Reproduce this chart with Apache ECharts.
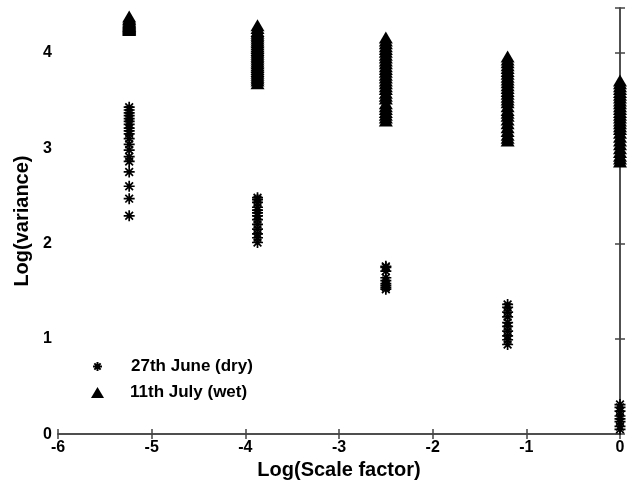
<!DOCTYPE html>
<html>
<head>
<meta charset="utf-8">
<script src="https://cdn.jsdelivr.net/npm/echarts@6/dist/echarts.min.js"></script>
<style>
  html, body { margin: 0; padding: 0; background: #fff; }
  #chart { width: 630px; height: 485px; }
</style>
</head>
<body>
<div id="chart"></div>
<script>
// log(scale factor) positions of the five columns
var scales = [-5.24, -3.87, -2.5, -1.2, 0];

// 27th June (dry) - log(variance) per column
var dry0 = [3.43, 3.40, 3.37, 3.34, 3.31, 3.28, 3.25, 3.21, 3.18, 3.15, 3.10, 3.04, 2.98, 2.91, 2.86, 2.75, 2.60, 2.47, 2.29];
var dry1 = [2.48, 2.46, 2.43, 2.38, 2.35, 2.32, 2.29, 2.25, 2.20, 2.15, 2.10, 2.06, 2.01];
var dry2 = [1.76, 1.75, 1.71, 1.64, 1.61, 1.58, 1.56, 1.54, 1.52];
var dry3 = [1.36, 1.33, 1.28, 1.23, 1.17, 1.13, 1.08, 1.03, 0.99, 0.94];
var dry4 = [0.31, 0.28, 0.24, 0.19, 0.16, 0.13, 0.08, 0.05];

// 11th July (wet)
var wet0 = [4.38, 4.36, 4.35, 4.33, 4.32, 4.31, 4.30, 4.29, 4.28, 4.27, 4.26, 4.25, 4.24];
var wet1 = [4.29, 4.26, 4.23, 4.21, 4.19, 4.17, 4.15, 4.13, 4.11, 4.09, 4.07, 4.05, 4.03, 4.01, 3.99,
            3.97, 3.95, 3.93, 3.91, 3.89, 3.87, 3.85, 3.83, 3.81, 3.79, 3.77, 3.75, 3.73, 3.71, 3.68];
var wet2 = [4.16, 4.13, 4.10, 4.07, 4.04, 4.01, 3.98, 3.95, 3.92, 3.89, 3.86, 3.83, 3.80, 3.77, 3.74,
            3.71, 3.68, 3.65, 3.62, 3.58, 3.55, 3.52, 3.47, 3.44, 3.41, 3.38, 3.35, 3.32, 3.29];
var wet3 = [3.96, 3.93, 3.90, 3.87, 3.84, 3.81, 3.78, 3.75, 3.72, 3.69, 3.66, 3.63, 3.60, 3.57, 3.54,
            3.51, 3.48, 3.44, 3.40, 3.37, 3.34, 3.30, 3.26, 3.22, 3.18, 3.14, 3.11, 3.08];
var wet4 = [3.71, 3.68, 3.65, 3.62, 3.59, 3.56, 3.53, 3.50, 3.47, 3.44, 3.41, 3.38, 3.35, 3.32, 3.29,
            3.26, 3.23, 3.20, 3.16, 3.12, 3.08, 3.04, 3.00, 2.96, 2.92, 2.89, 2.86];

var xTicks = [-6, -5, -4, -3, -2, -1, 0];
var yTicks = [0, 1, 2, 3, 4];
var names = ["27th June (dry)", "11th July (wet)"];

var dryCols = [dry0, dry1, dry2, dry3, dry4];
var wetCols = [wet0, wet1, wet2, wet3, wet4];

function toPoints(cols) {
	var pts = [];
	cols.forEach(function (col, i) {
		col.forEach(function (v) {
			pts.push([scales[i], v]);
		});
	});
	return pts;
}

var asterisk = "path://M5,0 L5,10 M0,5 L10,5 M1.5,1.5 L8.5,8.5 M1.5,8.5 L8.5,1.5";
var axisColor = "#444";
var font = "Liberation Sans";
var legendText = { fontFamily: font, fontWeight: "bold", fontSize: 17, color: "#000" };

function axisStyle() {
	return {
		axisLine: { show: true, lineStyle: { color: axisColor, width: 1.5 } },
		axisTick: { show: true, inside: true, length: 5, lineStyle: { color: axisColor, width: 1.5 } },
		splitLine: { show: false }
	};
}

var chart = echarts.init(document.getElementById("chart"));
chart.setOption({
	animation: false,
	backgroundColor: "#fff",
	textStyle: { fontFamily: font },
	grid: { left: 58, right: 10, top: 8, bottom: 50 },
	legend: [
		{
			left: 92, top: 358, padding: 0,
			itemWidth: 9, itemHeight: 9,
			textStyle: Object.assign({ padding: [0, 0, 0, 24] }, legendText),
			data: [names[0]]
		},
		{
			left: 91, top: 384, padding: 0,
			itemWidth: 13, itemHeight: 11,
			textStyle: Object.assign({ padding: [0, 0, 0, 21] }, legendText),
			data: [names[1]]
		}
	],
	xAxis: [
		Object.assign({
			type: "value", min: xTicks[0], max: xTicks[xTicks.length - 1], interval: 1,
			name: "Log(Scale factor)", nameLocation: "middle", nameGap: 24,
			nameTextStyle: { fontFamily: font, fontWeight: "bold", fontSize: 20, color: "#000" },
			axisLabel: { fontFamily: font, fontWeight: "bold", fontSize: 16, color: "#000", margin: 5 }
		}, axisStyle()),
		Object.assign({
			type: "value", position: "top", min: xTicks[0], max: xTicks[xTicks.length - 1], interval: 1,
			axisLabel: { show: false }
		}, axisStyle())
	],
	yAxis: [
		Object.assign({
			type: "value", min: yTicks[0], max: 4.47, interval: 1,
			name: "Log(variance)", nameLocation: "middle", nameGap: 24,
			nameTextStyle: { fontFamily: font, fontWeight: "bold", fontSize: 20, color: "#000" },
			axisLabel: {
				fontFamily: font, fontWeight: "bold", fontSize: 16, color: "#000", margin: 6,
				formatter: function (v) { return yTicks.indexOf(v) >= 0 ? String(v) : ""; }
			}
		}, axisStyle()),
		Object.assign({
			type: "value", position: "right", min: yTicks[0], max: 4.47, interval: 1,
			axisLabel: { show: false }
		}, axisStyle())
	],
	series: [
		{
			name: names[0],
			type: "scatter",
			symbol: asterisk,
			symbolSize: 11,
			itemStyle: { color: "transparent", borderColor: "#000", borderWidth: 1.7, opacity: 1 },
			data: toPoints(dryCols)
		},
		{
			name: names[1],
			type: "scatter",
			symbol: "triangle",
			symbolSize: [14, 12],
			itemStyle: { color: "#000", opacity: 1 },
			data: toPoints(wetCols)
		}
	]
});
</script>
</body>
</html>
